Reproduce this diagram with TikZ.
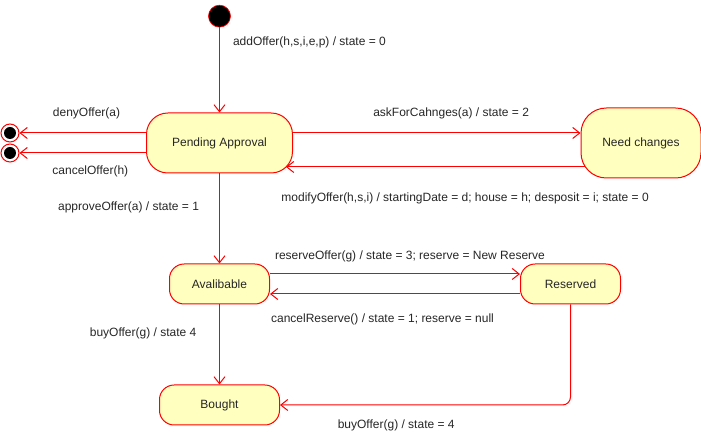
\documentclass[tikz,border=0pt]{standalone}
\usepackage{fontspec}
\setmainfont{Liberation Sans}
\usetikzlibrary{arrows.meta,positioning}
\definecolor{stateRed}{HTML}{FF0000}
\definecolor{stateFill}{HTML}{FFFFC0}
\definecolor{labelText}{HTML}{262626}

\begin{document}
\begin{tikzpicture}[
    >={Straight Barb[length=5.25pt,width=8.25pt]},
    state/.style={rectangle, draw=stateRed, fill=stateFill, line width=0.75pt, inner sep=0pt, align=center, text=labelText, font=\fontsize{9}{11}\selectfont},
    initial/.style={circle, draw=stateRed, fill=black, line width=0.5pt, minimum size=16.5pt, inner sep=0pt},
    final/.style={circle, draw=stateRed, fill=white, line width=0.75pt, minimum size=13.5pt, inner sep=0pt, path picture={\fill[black] (path picture bounding box.center) circle (4.5pt);}},
    trans/.style={->, draw=stateRed, line width=0.75pt},
    lbl/.style={inner sep=0pt, text=labelText, font=\fontsize{9}{11}\selectfont}
]
\useasboundingbox (0,0) rectangle (525.75pt,-325.5pt);

\node[state, minimum width=109.5pt, minimum height=45pt, rounded corners=16pt] (pending) at (164.625pt,-107.25pt) {Pending Approval};
\node[state, minimum width=90pt, minimum height=52.5pt, rounded corners=19pt, right=215.625pt of pending] (changes) {Need changes};
\node[state, minimum width=75pt, minimum height=30pt, rounded corners=11pt, below=67.5pt of pending] (avail) {Avalibable};
\node[state, minimum width=75pt, minimum height=30pt, rounded corners=11pt, right=187.5pt of avail] (reserved) {Reserved};
\node[state, minimum width=90pt, minimum height=30pt, rounded corners=11pt, below=60pt of avail] (bought) {Bought};

\node[initial, above=63.75pt of pending] (start) {};
\node[final] (deny) at (7.5pt,-99.75pt) {};
\node[final] (cancel) at (7.5pt,-114.75pt) {};

\coordinate (askL) at ([yshift=7.5pt]pending.east);
\coordinate (modR) at ([xshift=3pt,yshift=-18pt]changes.west);
\coordinate (modL) at ([xshift=-5.25pt,yshift=-18pt]pending.east);

\draw[trans] (start) -- (pending) node[lbl, pos=0.18, right=9.75pt] {addOffer(h,s,i,e,p) / state = 0};
\draw[trans] (pending.west |- deny) -- (deny) node[lbl, pos=0.47, yshift=15pt] {denyOffer(a)};
\draw[trans] (pending.west |- cancel) -- (cancel) node[lbl, pos=0.44, yshift=-13.5pt] {cancelOffer(h)};
\draw[trans] (askL) -- (askL -| changes.west) node[lbl, pos=0.55, yshift=15pt] {askForCahnges(a) / state = 2};
\draw[trans] (modR) -- (modL) node[lbl, pos=0.40, yshift=-23.25pt] {modifyOffer(h,s,i) / startingDate = d; house = h; desposit = i; state = 0};
\draw[trans] (pending) -- (avail) node[lbl, pos=0.38, left=15pt] {approveOffer(a) / state = 1};
\draw[trans] ([yshift=7.5pt]avail.east) -- ([yshift=7.5pt]reserved.west) node[lbl, pos=0.56, yshift=13.5pt] {reserveOffer(g) / state = 3; reserve = New Reserve};
\draw[trans] ([yshift=-7.5pt]reserved.west) -- ([yshift=-7.5pt]avail.east) node[lbl, pos=0.55, yshift=-18.75pt] {cancelReserve() / state = 1; reserve = null};
\draw[trans] (avail) -- (bought) node[lbl, pos=0.36, left=17pt] {buyOffer(g) / state 4};
\draw[trans, rounded corners=6pt] (reserved) |- (bought) node[lbl, pos=0.80, yshift=-15pt] {buyOffer(g) / state = 4};

\end{tikzpicture}
\end{document}
